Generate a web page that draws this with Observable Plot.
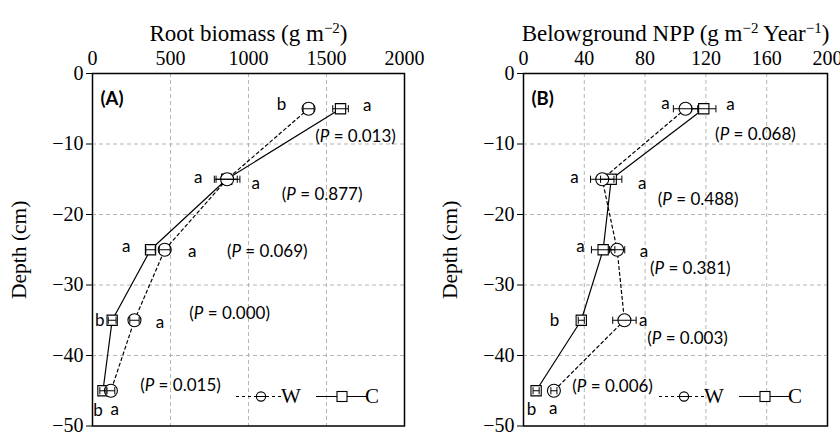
<!DOCTYPE html>
<html>
<head>
<meta charset="utf-8">
<script src="https://cdn.jsdelivr.net/npm/d3@7"></script>
<script src="https://cdn.jsdelivr.net/npm/@observablehq/plot@0.6"></script>
<style>
  body { margin: 0; background: white; }
  #wrap { display: flex; width: 840px; height: 433px; overflow: hidden; }
</style>
</head>
<body>
<div id="wrap"></div>
<script>
// ---------- data ----------
const depths = [-5, -15, -25, -35, -45];

const rootW    = [1385, 863, 463, 269, 118];
const rootWErr = [35, 82, 35, 30, 25];
const rootC    = [1590, 860, 372, 126, 67];
const rootCErr = [50, 68, 30, 25, 20];

const nppW    = [106.6, 51.8, 61.6, 66.4, 20.0];
const nppWErr = [8, 7.7, 5, 7.7, 2];
const nppC    = [118.6, 57.7, 52.4, 38.0, 8.3];
const nppCErr = [8, 7, 7.7, 2, 2];

const rootTicks = [0, 500, 1000, 1500, 2000];
const nppTicks  = [0, 40, 80, 120, 160, 200];
const depthTicks = [0, -10, -20, -30, -40, -50];

const titleA = ["Root biomass (g m", "−2", ")"];
const titleB = ["Belowground NPP (g m", "−2", " Year", "−1", ")"];
const yLabel = "Depth (cm)";
const panelNames = ["(A)", "(B)"];
const seriesNames = ["W", "C"];

// significance letters: text, x value, depth
const lettersA = [
  ["b", 1212, -4.4], ["a", 1761, -4.5],
  ["a", 677, -14.7], ["a", 1047, -15.6],
  ["a", 216, -24.6], ["a", 639, -25.2],
  ["b", 47, -35.1], ["a", 432, -35.3],
  ["b", 36, -47.8], ["a", 143, -47.6]
];
const pValsA = [
  ["0.013", 1686, -8.9], ["0.877", 1472, -17.2], ["0.069", 1120, -25.2],
  ["0.000", 879, -34.1], ["0.015", 564, -44.3]
];
const lettersB = [
  ["a", 93.4, -4.3], ["a", 136.2, -4.4],
  ["a", 33.6, -14.7], ["a", 78.1, -15.6],
  ["a", 37.5, -24.6], ["a", 79.2, -25.2],
  ["b", 20.4, -35.0], ["a", 78.7, -35.0],
  ["b", 5.3, -47.6], ["a", 19.5, -47.5]
];
const pValsB = [
  ["0.068", 152.6, -8.6], ["0.488", 114.9, -17.9], ["0.381", 109.7, -27.7],
  ["0.003", 107.9, -37.6], ["0.006", 58.6, -44.4]
];

// ---------- helpers ----------
const capSymbol = { draw(ctx, size) { const h = 3.6; ctx.moveTo(0, -h); ctx.lineTo(0, h); } };
const SANS = "Lato, 'Open Sans', sans-serif";
const SERIF = "'Liberation Serif', 'Times New Roman', serif";

function series(vals, errs) {
  return depths.map((d, i) => ({ d, v: vals[i], e: errs[i] }));
}

function makePanel(cfg) {
  const W = series(cfg.w, cfg.we), C = series(cfg.c, cfg.ce);
  const letters = cfg.letters.map(([t, x, y]) => ({ t, x, y }));
  const pvals = cfg.pvals.map(([t, x, y]) => ({ t: "(P = " + t + ")", x, y }));
  const title = cfg.title.join("");
  const marginTop = 73, marginBottom = 7.5;
  const errMarks = (data) => [
    Plot.link(data, { x1: d => d.v - d.e, x2: d => d.v + d.e, y1: "d", y2: "d", stroke: "black", strokeWidth: 1 }),
    Plot.dot(data, { x: d => d.v - d.e, y: "d", symbol: capSymbol, r: 3, stroke: "black", strokeWidth: 1 }),
    Plot.dot(data, { x: d => d.v + d.e, y: "d", symbol: capSymbol, r: 3, stroke: "black", strokeWidth: 1 })
  ];
  const svg = Plot.plot({
    width: 420, height: 433,
    marginLeft: cfg.ml, marginRight: cfg.mr, marginTop, marginBottom,
    style: { fontFamily: SERIF, fontSize: "19.5px", color: "black", background: "transparent", overflow: "visible" },
    x: { domain: cfg.domain },
    y: { domain: [-50, 0] },
    marks: [
      Plot.gridX({ ticks: cfg.ticks.slice(1, -1), stroke: "#b5b5b5", strokeOpacity: 1, strokeDasharray: "4,3" }),
      Plot.gridY({ ticks: [-10, -20, -30, -40], stroke: "#b5b5b5", strokeOpacity: 1, strokeDasharray: "4,3" }),
      Plot.axisX({ anchor: "top", ticks: cfg.ticks, tickSize: 0, tickPadding: 9, label: null,
        tickFormat: d => String(d) }),
      Plot.axisY({ ticks: depthTicks, tickSize: 6, tickPadding: 3, label: null,
        tickFormat: d => d === 0 ? "0" : "−" + Math.abs(d) }),
      Plot.line(W, { x: "v", y: "d", stroke: "black", strokeWidth: 1.2, strokeDasharray: "3,3" }),
      Plot.line(C, { x: "v", y: "d", stroke: "black", strokeWidth: 1.2 }),
      Plot.dot(C, { x: "v", y: "d", symbol: "square", r: 5.8, fill: "white", stroke: "black", strokeWidth: 1.1 }),
      Plot.dot(W, { x: "v", y: "d", symbol: "circle", r: 6.5, fill: "white", stroke: "black", strokeWidth: 1.1 }),
      ...errMarks(C), ...errMarks(W),
      Plot.text(letters, { x: "x", y: "y", text: "t", fontFamily: SANS, fontSize: 17, fill: "black" }),
      Plot.text(pvals, { x: "x", y: "y", text: "t", fontFamily: SANS, fontSize: 17, fill: "black" }),
      Plot.text([cfg.panel], { frameAnchor: "top-left", dx: 8, dy: 18, textAnchor: "start", fontFamily: SANS, fontWeight: "bold", fontSize: 18.5, fill: "black" }),
      Plot.text([title], { frameAnchor: "top", dy: -49, fontSize: 23, fontFamily: SERIF, fill: "black" }),
      Plot.text([yLabel], { frameAnchor: "left", dx: -73, rotate: -90, textAnchor: "middle", fontSize: 21.5, fontFamily: SERIF, fill: "black" }),
      Plot.frame({ stroke: "black", strokeWidth: 1.5 })
    ]
  });
  const s = d3.select(svg);
  s.selectAll('g[aria-label="x-axis tick label"], g[aria-label="y-axis tick label"]')
    .style("font-family", SERIF).style("font-size", "20px");
  s.selectAll("text").each(function () {
    const t = this.textContent;
    if (t && t.startsWith("(P = ") && this.childElementCount === 0) {
      this.textContent = "";
      const e = d3.select(this);
      e.append("tspan").text("(");
      e.append("tspan").attr("font-style", "italic").text("P");
      e.append("tspan").text(t.slice(2));
    } else if (t === title && this.childElementCount === 0) {
      this.textContent = "";
      const e = d3.select(this);
      cfg.title.forEach((part, i) => {
        const sup = i % 2 === 1;
        const ts = e.append("tspan").text(part);
        if (sup) ts.attr("font-size", 15).attr("dy", -8);
        else if (i > 0) ts.attr("dy", 8);
      });
    }
  });
  // legend (pixel layout relative to frame)
  const R = 420 - cfg.mr, yL = 433 - marginBottom - 29;
  const g = s.append("g").attr("class", "legend").style("font-family", SERIF);
  g.append("line").attr("x1", R - 168).attr("x2", R - 122).attr("y1", yL).attr("y2", yL)
    .attr("stroke", "black").attr("stroke-width", 1.1).attr("stroke-dasharray", "3,3");
  g.append("circle").attr("cx", R - 143).attr("cy", yL).attr("r", 4.6)
    .attr("fill", "white").attr("stroke", "black").attr("stroke-width", 1.1);
  g.append("line").attr("x1", R - 147.6).attr("x2", R - 138.4).attr("y1", yL).attr("y2", yL)
    .attr("stroke", "black").attr("stroke-width", 1);
  g.append("text").attr("x", R - 113).attr("y", yL).attr("dy", "0.33em").attr("font-size", 21).attr("fill", "black").text(seriesNames[0]);
  g.append("line").attr("x1", R - 88).attr("x2", R - 37).attr("y1", yL).attr("y2", yL)
    .attr("stroke", "black").attr("stroke-width", 1.2);
  g.append("rect").attr("x", R - 67).attr("y", yL - 5).attr("width", 10).attr("height", 10)
    .attr("fill", "white").attr("stroke", "black").attr("stroke-width", 1.1);
  g.append("text").attr("x", R - 32).attr("y", yL).attr("dy", "0.33em").attr("font-size", 21).attr("fill", "black").text(seriesNames[1]);
  return svg;
}

const wrap = document.getElementById("wrap");
wrap.appendChild(makePanel({
  w: rootW, we: rootWErr, c: rootC, ce: rootCErr,
  domain: [0, 2000], ticks: rootTicks, ml: 92, mr: 16,
  letters: lettersA, pvals: pValsA, title: titleA, panel: panelNames[0]
}));
wrap.appendChild(makePanel({
  w: nppW, we: nppWErr, c: nppC, ce: nppCErr,
  domain: [0, 200], ticks: nppTicks, ml: 103, mr: 13,
  letters: lettersB, pvals: pValsB, title: titleB, panel: panelNames[1]
}));
</script>
</body>
</html>
